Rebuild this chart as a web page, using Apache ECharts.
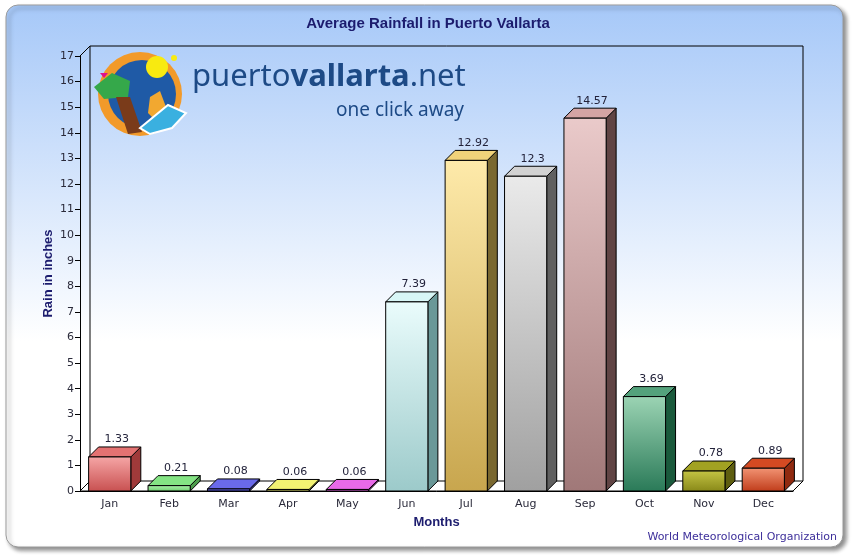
<!DOCTYPE html>
<html>
<head>
<meta charset="utf-8">
<script src="https://cdn.jsdelivr.net/npm/echarts@6/dist/echarts.min.js"></script>
<style>
  html, body { margin: 0; padding: 0; background: #fff; }
  #chart { width: 856px; height: 555px; }
</style>
</head>
<body>
<div id="chart"></div>
<script>
// data
const months = ["Jan", "Feb", "Mar", "Apr", "May", "Jun", "Jul", "Aug", "Sep", "Oct", "Nov", "Dec"];
const rainInches = [1.33, 0.21, 0.08, 0.06, 0.06, 7.39, 12.92, 12.3, 14.57, 3.69, 0.78, 0.89];
const yTicks = [0, 17, 1]; // min, max, step

// per-bar colours: front top, front bottom, top face, side face
const barColors = [
  ["#f6a6a6", "#c85050", "#e47272", "#a03a3a"],
  ["#aef4ae", "#6ccc6c", "#84e484", "#4c9c4c"],
  ["#7676f2", "#4646c6", "#6a6aea", "#3838a0"],
  ["#fafa96", "#dede5e", "#f2f272", "#aeae3e"],
  ["#f284f2", "#cc4ccc", "#e86ae8", "#a43aa4"],
  ["#eafcfc", "#9ccaca", "#d8f6f6", "#6a9898"],
  ["#feeaaa", "#c8a64e", "#f0d27a", "#7a6830"],
  ["#eaeaea", "#a0a0a0", "#d2d2d2", "#606060"],
  ["#eacaca", "#a07878", "#d4a4a4", "#604444"],
  ["#9cd4b4", "#2a7a58", "#54a27c", "#1a5a3c"],
  ["#c4c444", "#888818", "#a2a222", "#5e5e10"],
  ["#f29474", "#c03c1a", "#d44a22", "#902a10"]
];

const DX = 10, DY = 10; // 3d depth

const chart = echarts.init(document.getElementById("chart"));

function renderBar(params, api) {
  const i = api.value(0);
  const top = api.coord([i, api.value(1)]);
  const base = api.coord([i, 0]);
  const w = api.size([1, 0])[0] * 0.71;
  const x1 = top[0] - w / 2, x2 = top[0] + w / 2;
  const yt = top[1], yb = base[1];
  const c = barColors[i];
  const line = { stroke: "#000", lineWidth: 1 };
  return {
    type: "group",
    children: [
      {
        type: "polygon",
        shape: { points: [[x2, yt], [x2 + DX, yt - DY], [x2 + DX, yb - DY], [x2, yb]] },
        style: Object.assign({ fill: c[3] }, line)
      },
      {
        type: "polygon",
        shape: { points: [[x1, yt], [x2, yt], [x2 + DX, yt - DY], [x1 + DX, yt - DY]] },
        style: Object.assign({ fill: c[2] }, line)
      },
      {
        type: "rect",
        shape: { x: x1, y: yt, width: w, height: yb - yt },
        style: Object.assign({
          fill: new echarts.graphic.LinearGradient(0, 0, 0, 1, [
            { offset: 0, color: c[0] },
            { offset: 1, color: c[1] }
          ])
        }, line)
      },
      {
        type: "text",
        x: top[0] + DX / 2 + 2,
        y: yt - DY - 2,
        style: {
          text: String(api.value(1)),
          align: "center",
          verticalAlign: "bottom",
          fill: "#22223a",
          font: "11px 'DejaVu Sans'"
        }
      }
    ]
  };
}

function renderWalls(params, api) {
  const cs = params.coordSys;
  const gx = cs.x, gy = cs.y, gw = cs.width, gh = cs.height;
  const line = { stroke: "#000", lineWidth: 1 };
  return {
    type: "group",
    children: [
      {
        type: "polygon",
        shape: { points: [[gx, gy + gh], [gx + gw, gy + gh], [gx + gw + DX, gy + gh - DY], [gx + DX, gy + gh - DY]] },
        style: Object.assign({ fill: "#fff" }, line)
      },
      {
        type: "polyline",
        shape: { points: [[gx + DX, gy + gh - DY], [gx + DX, gy - DY], [gx + gw + DX, gy - DY], [gx + gw + DX, gy + gh - DY]] },
        style: Object.assign({ fill: null }, line)
      },
      {
        type: "line",
        shape: { x1: gx, y1: gy, x2: gx + DX, y2: gy - DY },
        style: line
      }
    ]
  };
}

const option = {
  animation: false,
  graphic: [
    {
      type: "rect",
      z: -10,
      shape: { x: 6, y: 5, width: 837, height: 542, r: 12 },
      style: {
        fill: new echarts.graphic.LinearGradient(0, 0, 0, 1, [
          { offset: 0, color: "#a6c8f8" },
          { offset: 0.62, color: "#ffffff" },
          { offset: 1, color: "#ffffff" }
        ]),
        stroke: "#9a9a9a",
        lineWidth: 1,
        shadowColor: "rgba(0,0,0,0.45)",
        shadowBlur: 4,
        shadowOffsetX: 3,
        shadowOffsetY: 3
      }
    },
    // logo
    {
      type: "group",
      z: 5,
      children: [
        { type: "circle", shape: { cx: 140, cy: 94, r: 42 }, style: { fill: "#f29a2a" } },
        { type: "circle", shape: { cx: 142, cy: 94, r: 34 }, style: { fill: "#1f5aa6" } },
        { type: "circle", shape: { cx: 157, cy: 67, r: 11 }, style: { fill: "#f8ea10" } },
        { type: "polygon", shape: { points: [[94, 87], [112, 73], [130, 81], [128, 97], [104, 99]] }, style: { fill: "#35a84a" } },
        { type: "polygon", shape: { points: [[116, 97], [130, 97], [142, 132], [128, 134]] }, style: { fill: "#7a3b1a" } },
        { type: "polygon", shape: { points: [[150, 97], [160, 91], [166, 107], [156, 121], [148, 113]] }, style: { fill: "#f2a830" } },
        { type: "polygon", shape: { points: [[140, 128], [168, 105], [186, 113], [172, 128], [150, 134]] }, style: { fill: "#3ab0e0", stroke: "#fff", lineWidth: 2 } },
        { type: "polygon", shape: { points: [[100, 73], [108, 73], [104, 78]] }, style: { fill: "#e0108a" } },
        { type: "circle", shape: { cx: 174, cy: 58, r: 3 }, style: { fill: "#f8ea10" } },
        {
          type: "text", x: 192, y: 93,
          style: {
            text: "{a|puerto}{b|vallarta}{a|.net}",
            verticalAlign: "bottom",
            rich: {
              a: { font: "31px 'Noto Sans'", fill: "#1d4a86" },
              b: { font: "bold 31px 'Noto Sans'", fill: "#1d4a86" }
            }
          }
        },
        {
          type: "text", x: 464, y: 120,
          style: { text: "one click away", align: "right", verticalAlign: "bottom", font: "19px 'Noto Sans'", fill: "#1d4a86" }
        }
      ]
    },
    {
      type: "text", right: 19, bottom: 12,
      style: { text: "World Meteorological Organization", font: "11px 'DejaVu Sans'", fill: "#3d2f9a" }
    }
  ],
  title: {
    text: "Average Rainfall in Puerto Vallarta",
    left: "center",
    top: 11,
    textStyle: { fontFamily: "Liberation Sans", fontSize: 15, fontWeight: "bold", color: "#1c1c6e" }
  },
  grid: { left: 80, right: 63, top: 56, bottom: 64 },
  xAxis: {
    type: "category",
    data: months,
    name: "Months",
    nameLocation: "middle",
    nameGap: 25,
    nameMoveOverlap: false,
    nameTextStyle: { fontFamily: "Liberation Sans", fontSize: 13, fontWeight: "bold", color: "#1c1c6e" },
    axisLine: { lineStyle: { color: "#000", width: 1 } },
    axisTick: { alignWithLabel: true, length: 5, lineStyle: { color: "#000" } },
    axisLabel: { margin: 8, fontFamily: "DejaVu Sans", fontSize: 11, color: "#2a2a3a" },
    z: 10
  },
  yAxis: {
    type: "value",
    min: yTicks[0],
    max: yTicks[1],
    interval: yTicks[2],
    name: "Rain in inches",
    nameLocation: "middle",
    nameRotate: 90,
    nameGap: 25,
    nameMoveOverlap: false,
    nameTextStyle: { fontFamily: "Liberation Sans", fontSize: 13, fontWeight: "bold", color: "#1c1c6e" },
    axisLine: { show: true, lineStyle: { color: "#000", width: 1 } },
    axisTick: { show: true, length: 5, lineStyle: { color: "#000" } },
    axisLabel: { margin: 6, fontFamily: "DejaVu Sans", fontSize: 11, color: "#2a2a3a" },
    splitLine: { show: false },
    z: 10
  },
  series: [
    {
      type: "custom",
      renderItem: renderWalls,
      data: [[0, 0]],
      clip: false,
      silent: true,
      z: 1
    },
    {
      type: "custom",
      renderItem: renderBar,
      data: months.map((m, i) => [i, rainInches[i]]),
      encode: { x: 0, y: 1 },
      clip: false,
      z: 3
    }
  ]
};

chart.setOption(option);
</script>
</body>
</html>
